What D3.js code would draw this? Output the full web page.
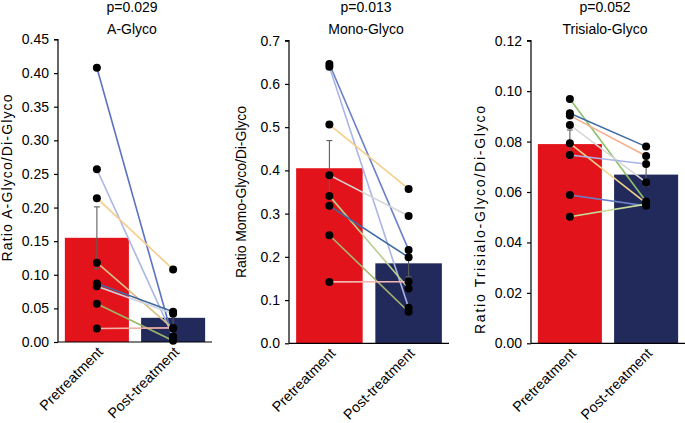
<!DOCTYPE html>
<html>
<head>
<meta charset="utf-8">
<script src="https://cdn.jsdelivr.net/npm/d3@7"></script>
<style>
  html, body { margin: 0; padding: 0; background: #fff; }
  svg { display: block; font-family: "Liberation Sans", Arial, Helvetica, sans-serif; }
</style>
</head>
<body>
<svg id="chart" width="685" height="423"></svg>
<script>
// ---- data ----
const groups = ["Pretreatment", "Post-treatment"];

const titles = ["A-Glyco", "Mono-Glyco", "Trisialo-Glyco"];
const pValues = ["p=0.029", "p=0.013", "p=0.052"];
const yLabels = ["Ratio A-Glyco/Di-Glyco", "Ratio Momo-Glyco/Di-Glyco", "Ratio Trisialo-Glyco/Di-Glyco"];

const aGlycoTicks = [0.00, 0.05, 0.10, 0.15, 0.20, 0.25, 0.30, 0.35, 0.40, 0.45];
const monoTicks = [0.0, 0.1, 0.2, 0.3, 0.4, 0.5, 0.6, 0.7];
const triTicks = [0.00, 0.02, 0.04, 0.06, 0.08, 0.10, 0.12];

const aGlycoMean = [0.155, 0.036];
const aGlycoSE = [0.046, 0.012];
const aGlycoPre = [0.408, 0.257, 0.214, 0.118, 0.087, 0.083, 0.057, 0.020];
const aGlycoPost = [0.004, 0.008, 0.108, 0.020, 0.045, 0.042, 0.002, 0.021];

const monoMean = [0.405, 0.185];
const monoSE = [0.064, 0.031];
const monoPre = [0.646, 0.640, 0.506, 0.389, 0.341, 0.318, 0.250, 0.142];
const monoPost = [0.216, 0.082, 0.357, 0.2945, 0.127, 0.199, 0.073, 0.1425];

const triMean = [0.079, 0.0669];
const triSE = [0.0056, 0.0045];
const triPre = [0.0969, 0.0912, 0.0903, 0.0866, 0.0793, 0.0747, 0.0588, 0.0502];
const triPost = [0.0562, 0.0780, 0.0743, 0.0638, 0.0556, 0.0711, 0.0545, 0.0552];

const aGlycoLineColors = ["#5b72c2", "#aab6e4", "#f6cc8a", "#d9bf82", "#3f6aa2", "#cfd3de", "#9bb866", "#f3b2a8"];
const monoLineColors = ["#6a80c8", "#aab5e6", "#f5cf8a", "#d6d6d6", "#b9cf8e", "#3d6aa0", "#a7b86e", "#f4b7b0"];
const triLineColors = ["#8fbf6a", "#3e6ea6", "#f2b08f", "#d8d8d8", "#f6d28a", "#aab5e6", "#6a7fc8", "#c7dc9a"];

// ---- layout ----
const barColors = ["#e3131b", "#222a5b"];
const panels = [
  { title: titles[0], p: pValues[0], ylab: yLabels[0], ticks: aGlycoTicks, fmt: ".2f", max: 0.45,
    mean: aGlycoMean, se: aGlycoSE, pre: aGlycoPre, post: aGlycoPost, colors: aGlycoLineColors,
    x0: 58, x1: 212, yTop: 39.5, yBot: 342, labX: 12, labY: 178, labLen: 167 },
  { title: titles[1], p: pValues[1], ylab: yLabels[1], ticks: monoTicks, fmt: ".1f", max: 0.7,
    mean: monoMean, se: monoSE, pre: monoPre, post: monoPost, colors: monoLineColors,
    x0: 289, x1: 449, yTop: 40.7, yBot: 343.3, labX: 246, labY: 192, labLen: 172 },
  { title: titles[2], p: pValues[2], ylab: yLabels[2], ticks: triTicks, fmt: ".2f", max: 0.12,
    mean: triMean, se: triSE, pre: triPre, post: triPost, colors: triLineColors,
    x0: 531, x1: 685, yTop: 40.7, yBot: 343.3, labX: 485, labY: 220, labLen: 228 }
];

const svg = d3.select("#chart");

panels.forEach(P => {
  const g = svg.append("g");
  const x = d3.scaleBand().domain(groups).range([P.x0, P.x1]).paddingInner(0.16).paddingOuter(0.09);
  const y = d3.scaleLinear().domain([0, P.max]).range([P.yBot, P.yTop]);

  // bars
  g.selectAll("rect.bar").data(groups).join("rect")
    .attr("class", "bar")
    .attr("x", d => x(d))
    .attr("width", x.bandwidth())
    .attr("y", (d, i) => y(P.mean[i]))
    .attr("height", (d, i) => y(0) - y(P.mean[i]))
    .attr("fill", (d, i) => barColors[i]);

  // error bars
  const cap = 3;
  groups.forEach((grp, i) => {
    const cx = x(grp) + x.bandwidth() / 2;
    const lo = y(P.mean[i] - P.se[i]), hi = y(P.mean[i] + P.se[i]);
    const eg = g.append("g").attr("stroke", "#5e5e5e").attr("stroke-width", 1.1);
    eg.append("line").attr("x1", cx).attr("x2", cx).attr("y1", lo).attr("y2", hi);
    eg.append("line").attr("x1", cx - cap).attr("x2", cx + cap).attr("y1", hi).attr("y2", hi);
    eg.append("line").attr("x1", cx - cap).attr("x2", cx + cap).attr("y1", lo).attr("y2", lo);
  });

  // paired lines
  const cPre = x(groups[0]) + x.bandwidth() / 2;
  const cPost = x(groups[1]) + x.bandwidth() / 2;
  const pairs = P.pre.map((v, i) => ({ a: v, b: P.post[i], c: P.colors[i] }));
  g.selectAll("line.pair").data(pairs).join("line")
    .attr("class", "pair")
    .attr("x1", cPre).attr("x2", cPost)
    .attr("y1", d => y(d.a)).attr("y2", d => y(d.b))
    .attr("stroke", d => d.c).attr("stroke-width", 1.6);

  // points
  const pts = P.pre.map(v => ({ cx: cPre, v })).concat(P.post.map(v => ({ cx: cPost, v })));
  g.selectAll("circle.pt").data(pts).join("circle")
    .attr("class", "pt")
    .attr("cx", d => d.cx).attr("cy", d => y(d.v)).attr("r", 4)
    .attr("fill", "#000");

  // y axis
  const ya = g.append("g").attr("transform", `translate(${P.x0},0)`)
    .call(d3.axisLeft(y).tickValues(P.ticks).tickFormat(d3.format(P.fmt)).tickSize(4).tickPadding(5));
  ya.select(".domain").attr("stroke", "#000").attr("stroke-width", 1.2).attr("d", `M-4,${y(P.max)}H0V${y(0)}`);
  ya.selectAll(".tick line").attr("stroke", "#000").attr("stroke-width", 1.2);
  ya.selectAll(".tick text").attr("fill", "#000").style("font-size", "14px");

  // x axis line
  g.append("line").attr("x1", P.x0).attr("x2", P.x1).attr("y1", y(0)).attr("y2", y(0))
    .attr("stroke", "#000").attr("stroke-width", 1.2);

  // x labels
  g.selectAll("text.xl").data(groups).join("text")
    .attr("class", "xl")
    .attr("transform", d => `translate(${x(d) + x.bandwidth() / 2 + 7},${y(0) + 11}) rotate(-45)`)
    .attr("text-anchor", "end")
    .style("font-size", "14.3px")
    .text(d => d);

  // titles
  const cx = (P.x0 + P.x1 - 6) / 2;
  g.append("text").attr("x", cx).attr("y", 12).attr("text-anchor", "middle").style("font-size", "14px").text(P.p);
  g.append("text").attr("x", cx).attr("y", 34).attr("text-anchor", "middle").style("font-size", "14px").text(P.title);

  // y label
  g.append("text")
    .attr("transform", `translate(${P.labX},${P.labY}) rotate(-90)`)
    .attr("text-anchor", "middle")
    .attr("textLength", P.labLen)
    .attr("lengthAdjust", "spacing")
    .style("font-size", "14px")
    .text(P.ylab);
});
</script>
</body>
</html>
